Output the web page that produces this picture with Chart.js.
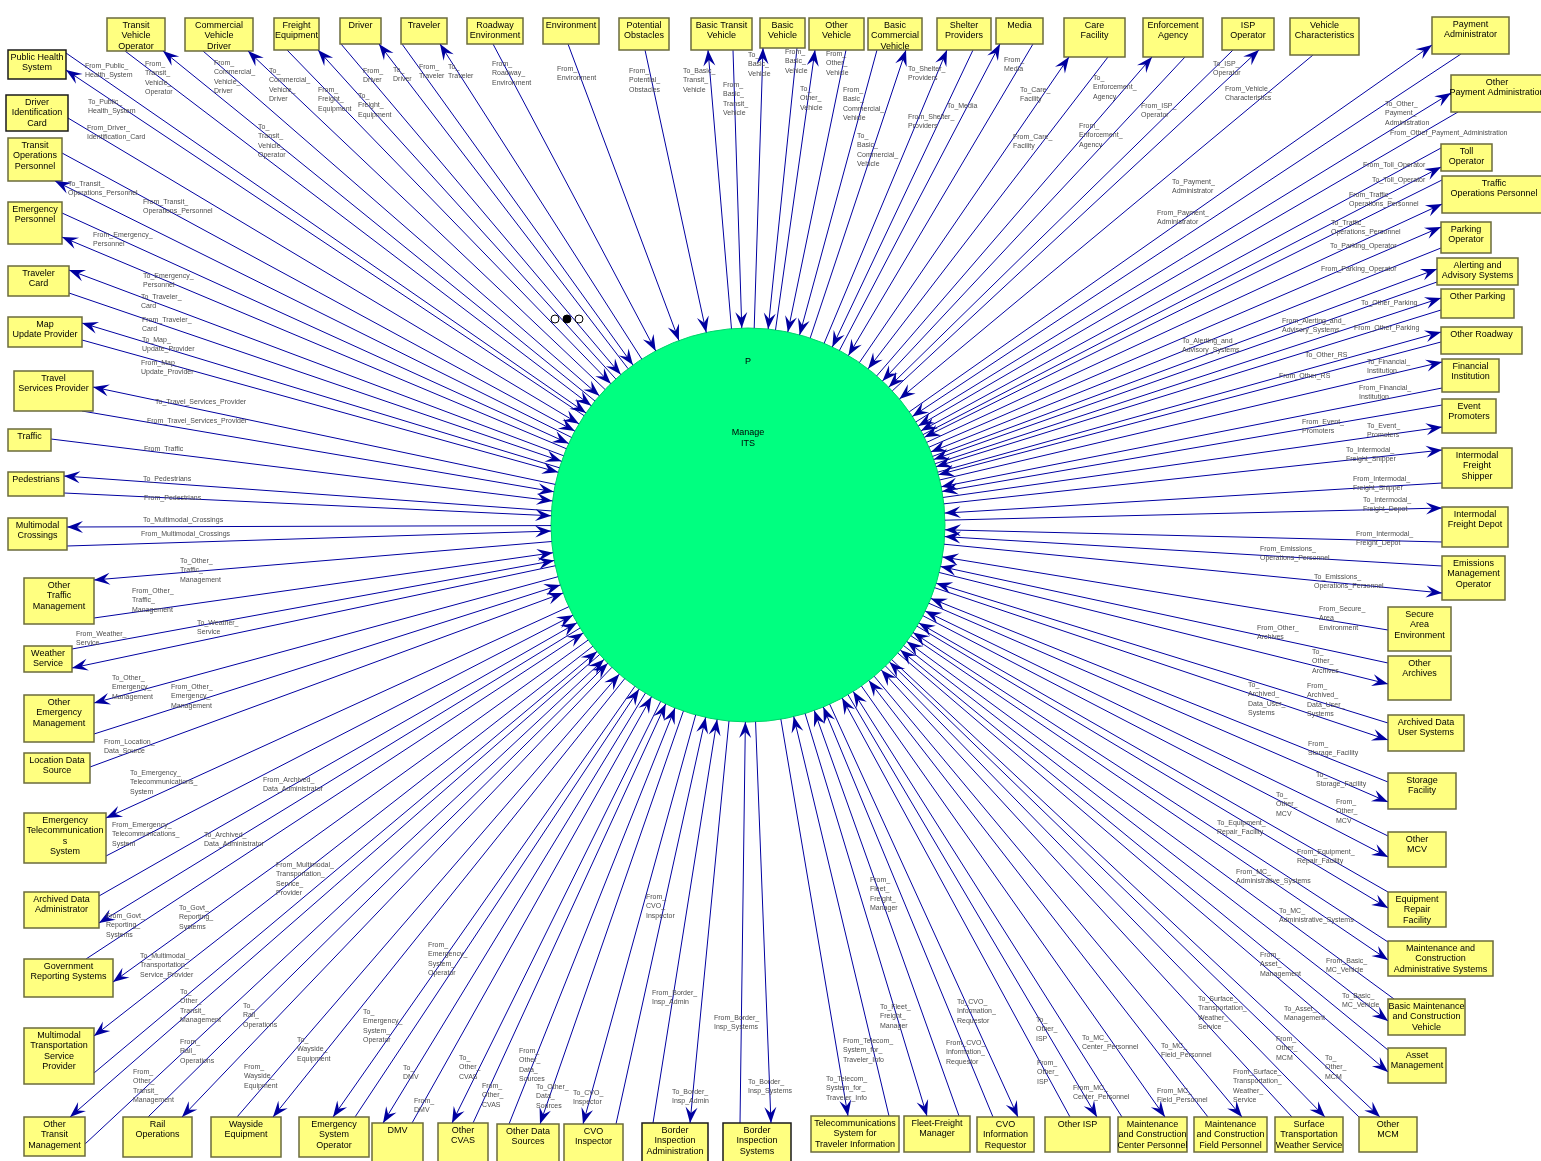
<!DOCTYPE html>
<html>
<head>
<meta charset="utf-8">
<title>Context Diagram</title>
<script src="https://cdn.jsdelivr.net/npm/chart.js@4.4.1/dist/chart.umd.min.js"></script>
<style>
  html, body { margin: 0; padding: 0; background: #fff; }
  canvas { display: block; }
</style>
</head>
<body>
<canvas id="diagram" width="1541" height="1161"></canvas>
<script>
// ----------------------------------------------------
// Data: terminators, process and flows
// ----------------------------------------------------
const diagramTitle = "Context Diagram";
const processId = "P";
const processName = "Manage\nITS";

const terminators = [
  "Transit\nVehicle\nOperator", "Commercial\nVehicle\nDriver", "Freight\nEquipment", "Driver", "Traveler",
  "Roadway\nEnvironment", "Environment", "Potential\nObstacles", "Basic Transit\nVehicle", "Basic\nVehicle",
  "Other\nVehicle", "Basic\nCommercial\nVehicle", "Shelter\nProviders", "Media", "Care\nFacility",
  "Enforcement\nAgency", "ISP\nOperator", "Vehicle\nCharacteristics", "Payment\nAdministrator", "Other\nPayment Administration",
  "Toll\nOperator", "Traffic\nOperations Personnel", "Parking\nOperator", "Alerting and\nAdvisory Systems", "Other Parking",
  "Other Roadway", "Financial\nInstitution", "Event\nPromoters", "Intermodal\nFreight\nShipper", "Intermodal\nFreight Depot",
  "Emissions\nManagement\nOperator", "Secure\nArea\nEnvironment", "Other\nArchives", "Archived Data\nUser Systems", "Storage\nFacility",
  "Other\nMCV", "Equipment\nRepair\nFacility", "Maintenance and\nConstruction\nAdministrative Systems", "Basic Maintenance\nand Construction\nVehicle", "Asset\nManagement",
  "Other\nMCM", "Surface\nTransportation\nWeather Service", "Maintenance\nand Construction\nField Personnel", "Maintenance\nand Construction\nCenter Personnel", "Other ISP",
  "CVO\nInformation\nRequestor", "Fleet-Freight\nManager", "Telecommunications\nSystem for\nTraveler Information", "Border\nInspection\nSystems", "Border\nInspection\nAdministration",
  "CVO\nInspector", "Other Data\nSources", "Other\nCVAS", "DMV", "Emergency\nSystem\nOperator",
  "Wayside\nEquipment", "Rail\nOperations", "Other\nTransit\nManagement", "Multimodal\nTransportation\nService\nProvider", "Government\nReporting Systems",
  "Archived Data\nAdministrator", "Emergency\nTelecommunication\ns\nSystem", "Location Data\nSource", "Other\nEmergency\nManagement", "Weather\nService",
  "Other\nTraffic\nManagement", "Multimodal\nCrossings", "Pedestrians", "Traffic", "Travel\nServices Provider",
  "Map\nUpdate Provider", "Traveler\nCard", "Emergency\nPersonnel", "Transit\nOperations\nPersonnel", "Driver\nIdentification\nCard",
  "Public Health\nSystem"
];

// [terminator index, direction, flow name]
const flows = [
  [0, "from", "From_\nTransit_\nVehicle_\nOperator"], [0, "to", "To_\nTransit_\nVehicle_\nOperator"],
  [1, "from", "From_\nCommercial_\nVehicle_\nDriver"], [1, "to", "To_\nCommercial_\nVehicle_\nDriver"],
  [2, "from", "From_\nFreight_\nEquipment"], [2, "to", "To_\nFreight_\nEquipment"],
  [3, "from", "From_\nDriver"], [3, "to", "To_\nDriver"],
  [4, "from", "From_\nTraveler"], [4, "to", "To_\nTraveler"],
  [5, "from", "From_\nRoadway_\nEnvironment"],
  [6, "from", "From_\nEnvironment"],
  [7, "from", "From_\nPotential_\nObstacles"],
  [8, "to", "To_Basic_\nTransit_\nVehicle"], [8, "from", "From_\nBasic_\nTransit_\nVehicle"],
  [9, "to", "To_\nBasic_\nVehicle"], [9, "from", "From_\nBasic_\nVehicle"],
  [10, "to", "To_\nOther_\nVehicle"], [10, "from", "From_\nOther_\nVehicle"],
  [11, "from", "From_\nBasic_\nCommercial_\nVehicle"], [11, "to", "To_\nBasic_\nCommercial_\nVehicle"],
  [12, "to", "To_Shelter_\nProviders"], [12, "from", "From_Shelter_\nProviders"],
  [13, "to", "To_Media"], [13, "from", "From_\nMedia"],
  [14, "to", "To_Care_\nFacility"], [14, "from", "From_Care_\nFacility"],
  [15, "to", "To_\nEnforcement_\nAgency"], [15, "from", "From_\nEnforcement_\nAgency"],
  [16, "from", "From_ISP_\nOperator"], [16, "to", "To_ISP_\nOperator"],
  [17, "from", "From_Vehicle_\nCharacteristics"],
  [18, "to", "To_Payment_\nAdministrator"], [18, "from", "From_Payment_\nAdministrator"],
  [19, "to", "To_Other_\nPayment_\nAdministration"], [19, "from", "From_Other_Payment_Administration"],
  [20, "from", "From_Toll_Operator"], [20, "to", "To_Toll_Operator"],
  [21, "from", "From_Traffic_\nOperations_Personnel"], [21, "to", "To_Traffic_\nOperations_Personnel"],
  [22, "to", "To_Parking_Operator"], [22, "from", "From_Parking_Operator"],
  [23, "to", "To_Alerting_and_\nAdvisory_Systems"], [23, "from", "From_Alerting_and_\nAdvisory_Systems"],
  [24, "to", "To_Other_Parking"], [24, "from", "From_Other_Parking"],
  [25, "to", "To_Other_RS"], [25, "from", "From_Other_RS"],
  [26, "to", "To_Financial_\nInstitution"], [26, "from", "From_Financial_\nInstitution"],
  [27, "from", "From_Event_\nPromoters"], [27, "to", "To_Event_\nPromoters"],
  [28, "to", "To_Intermodal_\nFreight_Shipper"], [28, "from", "From_Intermodal_\nFreight_Shipper"],
  [29, "to", "To_Intermodal_\nFreight_Depot"], [29, "from", "From_Intermodal_\nFreight_Depot"],
  [30, "from", "From_Emissions_\nOperations_Personnel"], [30, "to", "To_Emissions_\nOperations_Personnel"],
  [31, "from", "From_Secure_\nArea_\nEnvironment"],
  [32, "from", "From_Other_\nArchives"], [32, "to", "To_\nOther_\nArchives"],
  [33, "from", "From_\nArchived_\nData_User_\nSystems"], [33, "to", "To_\nArchived_\nData_User_\nSystems"],
  [34, "from", "From_\nStorage_Facility"], [34, "to", "To_\nStorage_Facility"],
  [35, "from", "From_\nOther_\nMCV"], [35, "to", "To_\nOther_\nMCV"],
  [36, "from", "From_Equipment_\nRepair_Facility"], [36, "to", "To_Equipment_\nRepair_Facility"],
  [37, "from", "From_MC_\nAdministrative_Systems"], [37, "to", "To_MC_\nAdministrative_Systems"],
  [38, "from", "From_Basic_\nMC_Vehicle"], [38, "to", "To_Basic_\nMC_Vehicle"],
  [39, "from", "From_\nAsset_\nManagement"], [39, "to", "To_Asset_\nManagement"],
  [40, "from", "From_\nOther_\nMCM"], [40, "to", "To_\nOther_\nMCM"],
  [41, "from", "From_Surface_\nTransportation_\nWeather_\nService"], [41, "to", "To_Surface_\nTransportation_\nWeather_\nService"],
  [42, "from", "From_MC_\nField_Personnel"], [42, "to", "To_MC_\nField_Personnel"],
  [43, "from", "From_MC_\nCenter_Personnel"], [43, "to", "To_MC_\nCenter_Personnel"],
  [44, "from", "From_\nOther_\nISP"], [44, "to", "To_\nOther_\nISP"],
  [45, "from", "From_CVO_\nInformation_\nRequestor"], [45, "to", "To_CVO_\nInformation_\nRequestor"],
  [46, "to", "To_Fleet_\nFreight_\nManager"], [46, "from", "From_\nFleet_\nFreight_\nManager"],
  [47, "to", "To_Telecom_\nSystem_for_\nTraveler_Info"], [47, "from", "From_Telecom_\nSystem_for_\nTraveler_Info"],
  [48, "from", "From_Border_\nInsp_Systems"], [48, "to", "To_Border_\nInsp_Systems"],
  [49, "from", "From_Border_\nInsp_Admin"], [49, "to", "To_Border_\nInsp_Admin"],
  [50, "to", "To_CVO_\nInspector"], [50, "from", "From_\nCVO_\nInspector"],
  [51, "from", "From_\nOther_\nData_\nSources"], [51, "to", "To_Other_\nData_\nSources"],
  [52, "to", "To_\nOther_\nCVAS"], [52, "from", "From_\nOther_\nCVAS"],
  [53, "to", "To_\nDMV"], [53, "from", "From_\nDMV"],
  [54, "to", "To_\nEmergency_\nSystem_\nOperator"], [54, "from", "From_\nEmergency_\nSystem_\nOperator"],
  [55, "from", "From_\nWayside_\nEquipment"], [55, "to", "To_\nWayside_\nEquipment"],
  [56, "from", "From_\nRail_\nOperations"], [56, "to", "To_\nRail_\nOperations"],
  [57, "to", "To_\nOther_\nTransit_\nManagement"], [57, "from", "From_\nOther_\nTransit_\nManagement"],
  [58, "to", "To_Multimodal_\nTransportation_\nService_Provider"], [58, "from", "From_Multimodal_\nTransportation_\nService_\nProvider"],
  [59, "from", "From_Govt_\nReporting_\nSystems"], [59, "to", "To_Govt_\nReporting_\nSystems"],
  [60, "from", "From_Archived_\nData_Administrator"], [60, "to", "To_Archived_\nData_Administrator"],
  [61, "to", "To_Emergency_\nTelecommunications_\nSystem"], [61, "from", "From_Emergency_\nTelecommunications_\nSystem"],
  [62, "from", "From_Location_\nData_Source"],
  [63, "to", "To_Other_\nEmergency_\nManagement"], [63, "from", "From_Other_\nEmergency_\nManagement"],
  [64, "from", "From_Weather_\nService"], [64, "to", "To_Weather_\nService"],
  [65, "to", "To_Other_\nTraffic_\nManagement"], [65, "from", "From_Other_\nTraffic_\nManagement"],
  [66, "to", "To_Multimodal_Crossings"], [66, "from", "From_Multimodal_Crossings"],
  [67, "to", "To_Pedestrians"], [67, "from", "From_Pedestrians"],
  [68, "from", "From_Traffic"],
  [69, "to", "To_Travel_Services_Provider"], [69, "from", "From_Travel_Services_Provider"],
  [70, "to", "To_Map_\nUpdate_Provider"], [70, "from", "From_Map_\nUpdate_Provider"],
  [71, "to", "To_Traveler_\nCard"], [71, "from", "From_Traveler_\nCard"],
  [72, "from", "From_Emergency_\nPersonnel"], [72, "to", "To_Emergency_\nPersonnel"],
  [73, "from", "From_Transit_\nOperations_Personnel"], [73, "to", "To_Transit_\nOperations_Personnel"],
  [74, "from", "From_Driver_\nIdentification_Card"],
  [75, "from", "From_Public_\nHealth_System"], [75, "to", "To_Public_\nHealth_System"]
];

// ----------------------------------------------------
// Layout (diagram units): boxes [x, y, w, h], flow anchors [boxX, boxY, labelX, labelY]
// ----------------------------------------------------
const boxLayout = [
  [107,18,58,33], [185,18,68,33], [274,18,45,32], [340,18,41,26], [401,18,46,26],
  [467,18,56,26], [543,18,56,26], [619,18,50,32], [691,18,61,32], [760,18,45,30],
  [809,18,55,32], [868,18,54,32], [937,18,54,32], [996,18,47,26], [1064,18,61,39],
  [1143,18,60,39], [1222,18,52,32], [1290,18,69,37], [1432,17,77,37], [1451,75,92,37],
  [1441,144,51,27], [1442,176,104,37], [1441,222,50,31], [1437,258,81,27], [1441,289,73,29],
  [1441,327,81,27], [1442,359,57,33], [1442,399,54,34], [1442,448,70,40], [1442,507,66,40],
  [1442,556,63,44], [1388,607,63,44], [1388,656,63,44], [1388,715,76,36], [1388,773,68,36],
  [1388,832,58,35], [1388,892,58,35], [1388,941,105,35], [1388,999,77,36], [1388,1048,58,35],
  [1359,1117,58,35], [1275,1117,68,35], [1194,1117,73,35], [1118,1117,69,35], [1045,1117,65,35],
  [977,1117,57,35], [904,1116,66,36], [811,1116,88,36], [723,1123,68,40], [642,1123,66,40],
  [564,1124,59,40], [497,1124,62,40], [438,1123,50,40], [372,1123,51,40], [299,1117,70,40],
  [211,1117,70,40], [123,1117,69,40], [24,1117,61,39], [24,1028,70,56], [24,959,89,38],
  [24,892,75,36], [24,813,82,50], [24,753,66,30], [24,695,70,47], [24,646,48,26],
  [24,578,70,46], [8,518,59,32], [8,472,56,24], [8,429,43,22], [14,371,79,40],
  [8,317,74,30], [8,266,61,30], [8,202,54,42], [8,138,54,43], [6,95,62,36],
  [8,50,58,29]
];
// boxes drawn with a darker outline in the source
const darkOutline = [48, 49, 74, 75];

const flowLayout = [
  [125,51,145,64], [163,51,258,127],
  [203,51,214,63], [248,51,269,71],
  [287,50,318,90], [318,50,358,96],
  [341,44,363,71], [379,44,393,70],
  [402,44,419,67], [440,44,448,67],
  [493,44,492,64],
  [568,44,557,69],
  [645,50,629,71],
  [708,50,683,71], [733,50,723,85],
  [763,48,748,55], [797,48,785,52],
  [815,50,800,89], [846,50,826,54],
  [877,50,843,90], [906,50,857,136],
  [947,50,908,69], [973,50,908,117],
  [1000,44,947,106], [1033,44,1004,60],
  [1069,57,1020,90], [1108,57,1013,137],
  [1152,57,1093,78], [1185,57,1079,126],
  [1233,50,1141,106], [1259,50,1213,64],
  [1313,55,1225,89],
  [1432,45,1172,182], [1461,54,1157,213],
  [1451,93,1385,104], [1458,112,1390,133],
  [1441,148,1363,165], [1441,167,1372,180],
  [1442,180,1349,195], [1442,204,1331,223],
  [1441,227,1330,246], [1441,248,1321,269],
  [1437,269,1182,341], [1437,282,1282,321],
  [1441,298,1361,303], [1441,310,1354,328],
  [1441,332,1305,355], [1441,342,1279,376],
  [1442,362,1367,362], [1442,388,1359,388],
  [1442,405,1302,422], [1442,427,1367,426],
  [1442,450,1346,450], [1442,483,1353,479],
  [1442,508,1363,500], [1442,542,1356,534],
  [1442,566,1260,549], [1442,593,1314,577],
  [1388,630,1319,609],
  [1388,663,1257,628], [1388,684,1312,652],
  [1388,723,1307,686], [1388,740,1248,685],
  [1388,782,1308,744], [1388,802,1316,775],
  [1388,836,1336,802], [1388,857,1276,795],
  [1388,892,1297,852], [1388,908,1217,823],
  [1388,942,1236,872], [1388,960,1279,911],
  [1394,999,1326,961], [1388,1021,1342,996],
  [1388,1050,1260,955], [1388,1072,1284,1009],
  [1359,1117,1276,1039], [1380,1117,1325,1058],
  [1292,1117,1233,1072], [1325,1117,1198,999],
  [1208,1117,1157,1091], [1242,1117,1161,1046],
  [1122,1117,1073,1088], [1165,1117,1082,1038],
  [1070,1117,1037,1063], [1097,1117,1036,1020],
  [993,1117,946,1043], [1018,1117,957,1002],
  [927,1116,880,1007], [959,1116,870,880],
  [848,1116,826,1079], [889,1116,843,1041],
  [740,1123,714,1018], [771,1123,748,1082],
  [653,1123,652,993], [690,1123,672,1092],
  [583,1124,573,1093], [616,1124,646,897],
  [509,1124,519,1051], [540,1124,536,1087],
  [452,1123,459,1058], [473,1123,482,1086],
  [383,1123,403,1068], [412,1123,414,1101],
  [333,1117,363,1012], [355,1117,428,945],
  [237,1117,244,1067], [273,1117,297,1040],
  [148,1117,180,1042], [182,1117,243,1006],
  [70,1117,180,992], [85,1144,133,1072],
  [94,1036,140,956], [94,1073,276,865],
  [86,959,106,916], [113,982,179,908],
  [99,896,263,780], [99,923,204,835],
  [106,818,130,773], [106,856,112,825],
  [90,767,104,742],
  [94,703,112,678], [94,734,171,687],
  [72,649,76,634], [72,668,197,623],
  [94,580,180,561], [94,618,132,591],
  [67,527,143,520], [67,546,141,534],
  [64,476,143,479], [64,493,144,498],
  [51,439,144,449],
  [93,387,155,402], [82,411,147,421],
  [82,323,142,340], [82,340,141,363],
  [69,270,141,297], [69,293,142,320],
  [62,213,93,235], [62,237,143,276],
  [62,153,143,202], [55,181,68,184],
  [68,118,87,128],
  [66,53,85,66], [66,70,88,102]
];

const processCircle = { x: 748, y: 525, r: 197 };

// ----------------------------------------------------
// Helpers
// ----------------------------------------------------
const LINE_COLOR = "#0000a0";
const FONT = "'Liberation Sans', Arial, sans-serif";

// point where a flow from (ax, ay) toward the process centre meets the circle
function circlePoint(ax, ay) {
  const dx = ax - processCircle.x, dy = ay - processCircle.y;
  const d = Math.hypot(dx, dy);
  return { x: processCircle.x + processCircle.r * dx / d, y: processCircle.y + processCircle.r * dy / d };
}

function drawArrowHead(ctx, tipX, tipY, fromX, fromY) {
  const a = Math.atan2(tipY - fromY, tipX - fromX);
  ctx.save();
  ctx.translate(tipX, tipY);
  ctx.rotate(a);
  ctx.beginPath();
  ctx.moveTo(0, 0);
  ctx.lineTo(-16, 6);
  ctx.lineTo(-10, 0);
  ctx.lineTo(-16, -6);
  ctx.closePath();
  ctx.fillStyle = LINE_COLOR;
  ctx.fill();
  ctx.restore();
}

// ----------------------------------------------------
// Datasets: one line per flow + the process bubble
// ----------------------------------------------------
const flowDatasets = flows.map((f, i) => {
  const [ax, ay] = flowLayout[i];
  const cp = circlePoint(ax, ay);
  return {
    type: "scatter",
    data: [{ x: ax, y: ay }, { x: cp.x, y: cp.y }],
    showLine: true,
    borderColor: LINE_COLOR,
    borderWidth: 1,
    pointRadius: 0,
    fill: false,
    order: 0
  };
});

const processDataset = {
  type: "bubble",
  data: [{ x: processCircle.x, y: processCircle.y, r: processCircle.r }],
  backgroundColor: "#00ff80",
  borderColor: "#00d46a",
  borderWidth: 1,
  order: 5
};

// ----------------------------------------------------
// Plugin: terminator boxes, arrowheads and texts
// ----------------------------------------------------
const diagramPlugin = {
  id: "contextDiagram",
  afterDatasetsDraw(chart) {
    const ctx = chart.ctx;
    const sx = chart.scales.x, sy = chart.scales.y;
    const px = v => sx.getPixelForValue(v);
    const py = v => sy.getPixelForValue(v);

    // boxes
    terminators.forEach((name, i) => {
      const [x, y, w, h] = boxLayout[i];
      const x0 = px(x), y0 = py(y), x1 = px(x + w), y1 = py(y + h);
      ctx.fillStyle = "#ffff80";
      ctx.fillRect(x0, y0, x1 - x0, y1 - y0);
      ctx.strokeStyle = darkOutline.includes(i) ? "#1a1a1a" : "#6b6b3c";
      ctx.lineWidth = 1.5;
      ctx.strokeRect(x0, y0, x1 - x0, y1 - y0);
      ctx.fillStyle = "#000";
      ctx.font = "9px " + FONT;
      ctx.textAlign = "center";
      ctx.textBaseline = "middle";
      name.split("\n").forEach((line, k) => {
        ctx.fillText(line, (x0 + x1) / 2, y0 + 7.5 + k * 10.5);
      });
    });

    // arrowheads
    flows.forEach((f, i) => {
      const [ax, ay] = flowLayout[i];
      const cp = circlePoint(ax, ay);
      if (f[1] === "from") drawArrowHead(ctx, px(cp.x), py(cp.y), px(ax), py(ay));
      else drawArrowHead(ctx, px(ax), py(ay), px(cp.x), py(cp.y));
    });

    // flow labels
    ctx.fillStyle = "#4d4d4d";
    ctx.font = "7px " + FONT;
    ctx.textAlign = "left";
    ctx.textBaseline = "middle";
    flows.forEach((f, i) => {
      const lx = flowLayout[i][2], ly = flowLayout[i][3];
      f[2].split("\n").forEach((line, k) => {
        ctx.fillText(line, px(lx), py(ly) + k * 9.3);
      });
    });

    // process texts
    ctx.fillStyle = "#000";
    ctx.font = "9px " + FONT;
    ctx.textAlign = "center";
    ctx.fillText(processId, px(processCircle.x), py(362));
    processName.split("\n").forEach((line, k) => {
      ctx.fillText(line, px(processCircle.x), py(433) + k * 10.5);
    });

    // small state marker
    [555, 567, 579].forEach((cx, k) => {
      ctx.beginPath();
      ctx.arc(px(cx), py(319), 4, 0, Math.PI * 2);
      ctx.fillStyle = k === 1 ? "#000" : "#fff";
      ctx.fill();
      ctx.strokeStyle = "#000";
      ctx.lineWidth = 1;
      ctx.stroke();
    });

    // title
    ctx.textAlign = "left";
    ctx.font = "9.5px " + FONT;
    ctx.fillText(diagramTitle, px(11), py(12));
  }
};

// ----------------------------------------------------
// Chart
// ----------------------------------------------------
const ctx = document.getElementById("diagram").getContext("2d");
new Chart(ctx, {
  type: "scatter",
  data: { datasets: [...flowDatasets, processDataset] },
  options: {
    responsive: false,
    devicePixelRatio: 1,
    animation: false,
    events: [],
    layout: { padding: 0, autoPadding: false },
    scales: {
      x: { type: "linear", min: 0, max: 1541, display: false },
      y: { type: "linear", min: 0, max: 1161, reverse: true, display: false }
    },
    plugins: { legend: { display: false }, tooltip: { enabled: false } }
  },
  plugins: [diagramPlugin]
});
</script>
</body>
</html>
